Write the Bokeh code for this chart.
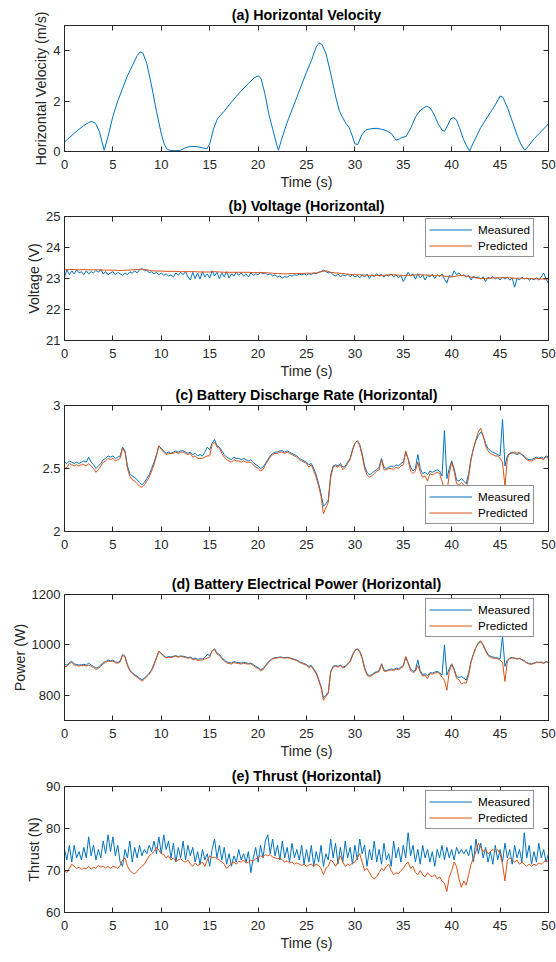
import numpy as np
from bokeh.plotting import figure
from bokeh.layouts import column
from bokeh.models import Range1d, FixedTicker, LinearAxis, Legend, LegendItem
from bokeh.embed import file_html
from bokeh.resources import INLINE

BLUE = "#0072BD"
ORANGE = "#D95319"
AX = "#262626"
FONT = "Liberation Sans"

x_ticks = [0, 5, 10, 15, 20, 25, 30, 35, 40, 45, 50]

# (a) horizontal velocity
vel_t = [0, 0.5, 1, 1.5, 2, 2.5, 2.8, 3.2, 3.6, 3.9,
         4.1, 4.5, 5, 5.5, 6, 6.5, 7, 7.5, 7.8, 8.1,
         8.5, 9, 9.5, 10, 10.3, 10.6, 11, 11.5, 12, 12.5,
         13, 13.5, 14, 14.5, 14.7, 15, 15.4, 15.8, 16.5, 17,
         18, 19, 19.6, 20, 20.3, 20.7, 21.1, 21.5, 21.9, 22.1,
         22.4, 23, 24, 25, 25.5, 26, 26.3, 26.6, 27, 27.5,
         28, 28.4, 28.8, 29.1, 29.4, 29.7, 30, 30.3, 30.7, 31.1,
         31.6, 32.2, 32.8, 33.3, 33.8, 34.25, 34.6, 34.8, 35.3, 35.8,
         36.3, 36.8, 37.4, 37.8, 38.2, 38.6, 39.0, 39.25, 39.6, 39.9,
         40.2, 40.5, 40.8, 41.2, 41.5, 41.85, 42.3, 43, 44, 44.5,
         45, 45.3, 45.8, 46.3, 46.8, 47.2, 47.55, 48, 48.5, 49,
         49.5, 50]
vel_v = [0.37, 0.55, 0.72, 0.88, 1.03, 1.15, 1.2, 1.12, 0.8, 0.35,
         0.05, 0.6, 1.4, 2.0, 2.5, 3.0, 3.4, 3.8, 3.95, 3.9,
         3.5, 2.6, 1.6, 0.7, 0.3, 0.08, 0.04, 0.03, 0.05, 0.15,
         0.2, 0.2, 0.17, 0.12, 0.1, 0.3, 0.9, 1.3, 1.6, 1.85,
         2.3, 2.7, 2.92, 3.0, 2.9, 2.3, 1.5, 0.9, 0.3, 0.05,
         0.45, 1.15, 2.15, 3.15, 3.6, 4.15, 4.3, 4.25, 3.9, 3.1,
         2.2, 1.6, 1.3, 1.1, 0.95, 0.65, 0.3, 0.28, 0.65, 0.85,
         0.9, 0.92, 0.88, 0.82, 0.7, 0.45, 0.5, 0.55, 0.6, 0.95,
         1.4, 1.65, 1.8, 1.72, 1.45, 1.1, 0.85, 0.8, 1.05, 1.3,
         1.35, 1.25, 0.95, 0.5, 0.25, 0.02, 0.4, 0.95, 1.55, 1.85,
         2.2, 2.15, 1.7, 1.15, 0.6, 0.25, 0.05, 0.25, 0.5, 0.7,
         0.9, 1.1]

# (b) voltage, measured every 0.25 s, predicted every 0.5 s
volt_meas = [23.05, 23.28, 23.12, 23.25, 23.15, 23.28, 23.18, 23.22, 23.12, 23.25,
             23.15, 23.22, 23.18, 23.26, 23.20, 23.30, 23.15, 23.22, 23.12, 23.18,
             23.22, 23.12, 23.20, 23.15, 23.10, 23.18, 23.12, 23.22, 23.17, 23.25,
             23.18, 23.28, 23.32, 23.25, 23.28, 23.18, 23.22, 23.15, 23.20, 23.12,
             23.18, 23.10, 23.15, 23.08, 23.12, 23.05, 23.18, 23.10, 23.20, 23.12,
             23.22, 23.05, 22.95, 23.20, 23.00, 23.18, 22.98, 23.22, 23.05, 23.15,
             23.02, 23.25, 23.08, 23.20, 23.00, 23.18, 23.05, 23.22, 23.02, 23.15,
             23.08, 23.20, 23.10, 23.18, 23.08, 23.15, 23.05, 23.18, 23.10, 23.15,
             23.12, 23.20, 23.15, 23.18, 23.12, 23.15, 23.08, 23.12, 23.05, 23.08,
             23.02, 23.06, 23.04, 23.10, 23.08, 23.12, 23.10, 23.14, 23.12, 23.15,
             23.11, 23.16, 23.12, 23.18, 23.15, 23.20, 23.22, 23.27, 23.22, 23.18,
             23.20, 23.12, 23.08, 23.15, 23.05, 23.12, 23.08, 23.14, 23.06, 23.12,
             23.05, 23.10, 23.02, 23.12, 23.05, 23.14, 23.00, 23.12, 23.06, 23.16,
             23.08, 23.14, 23.04, 23.12, 23.08, 23.15, 23.05, 23.12, 23.02, 23.10,
             22.90, 23.05, 23.20, 23.08, 23.15, 22.98, 23.15, 23.02, 23.12, 22.95,
             23.10, 23.05, 23.14, 23.00, 23.12, 23.06, 23.15, 22.98, 22.85, 23.10,
             23.05, 23.25, 23.12, 23.18, 23.08, 23.12, 23.05, 23.10, 22.95, 23.08,
             23.02, 23.05, 22.98, 23.06, 22.90, 23.04, 23.00, 23.06, 22.98, 23.04,
             22.95, 23.05, 22.98, 23.04, 22.95, 23.02, 22.72, 23.00, 22.96, 23.04,
             22.98, 23.02, 22.94, 23.00, 22.96, 23.02, 22.95, 23.05, 23.18, 22.98,
             22.85]
volt_pred = [23.28, 23.29, 23.29, 23.28, 23.29, 23.28, 23.28, 23.28, 23.27, 23.27,
             23.27, 23.26, 23.26, 23.27, 23.28, 23.29, 23.30, 23.28, 23.25, 23.24,
             23.24, 23.23, 23.23, 23.23, 23.22, 23.22, 23.22, 23.22, 23.21, 23.21,
             23.21, 23.22, 23.21, 23.20, 23.20, 23.20, 23.20, 23.20, 23.20, 23.19,
             23.19, 23.19, 23.18, 23.17, 23.16, 23.15, 23.15, 23.16, 23.16, 23.16,
             23.17, 23.17, 23.18, 23.22, 23.25, 23.20, 23.18, 23.17, 23.15, 23.13,
             23.12, 23.12, 23.11, 23.10, 23.10, 23.09, 23.10, 23.12, 23.12, 23.11,
             23.10, 23.10, 23.11, 23.12, 23.12, 23.11, 23.10, 23.10, 23.09, 23.06,
             23.05, 23.08, 23.10, 23.08, 23.04, 23.02, 23.00, 23.00, 23.01, 23.02,
             23.02, 23.03, 23.02, 23.01, 23.01, 23.00, 23.00, 22.99, 22.99, 22.98,
             22.98]

# (c) battery discharge rate, every 0.25 s
rate_meas = [2.55, 2.54, 2.56, 2.55, 2.54, 2.55, 2.54, 2.55, 2.56, 2.55,
             2.59, 2.55, 2.53, 2.50, 2.52, 2.54, 2.57, 2.58, 2.60, 2.59,
             2.60, 2.58, 2.59, 2.60, 2.67, 2.64, 2.52, 2.46, 2.44, 2.43,
             2.41, 2.39, 2.37, 2.39, 2.42, 2.45, 2.50, 2.55, 2.61, 2.68,
             2.66, 2.64, 2.62, 2.63, 2.62, 2.63, 2.64, 2.63, 2.64, 2.64,
             2.63, 2.62, 2.63, 2.61, 2.62, 2.60, 2.61, 2.60, 2.63, 2.67,
             2.65, 2.70, 2.73, 2.68, 2.67, 2.64, 2.61, 2.59, 2.58, 2.57,
             2.59, 2.58, 2.58, 2.57, 2.58, 2.57, 2.56, 2.57, 2.55, 2.53,
             2.52, 2.50, 2.51, 2.54, 2.57, 2.60, 2.62, 2.63, 2.63, 2.64,
             2.64, 2.63, 2.64, 2.63, 2.62, 2.61, 2.60, 2.58, 2.57, 2.56,
             2.55, 2.53, 2.54, 2.50, 2.45, 2.38, 2.30, 2.20, 2.22, 2.25,
             2.45, 2.52, 2.53, 2.52, 2.54, 2.51, 2.52, 2.55, 2.58, 2.65,
             2.70, 2.72, 2.69, 2.62, 2.52, 2.47, 2.45, 2.46, 2.48, 2.49,
             2.51, 2.58, 2.51, 2.50, 2.51, 2.52, 2.51, 2.53, 2.52, 2.54,
             2.55, 2.63, 2.58, 2.51, 2.48, 2.50, 2.61, 2.50, 2.46, 2.47,
             2.45, 2.48, 2.47, 2.48, 2.49, 2.48, 2.44, 2.80, 2.42, 2.50,
             2.56, 2.50, 2.41, 2.40, 2.42, 2.40, 2.38, 2.46, 2.58, 2.66,
             2.72, 2.76, 2.79, 2.76, 2.70, 2.66, 2.64, 2.63, 2.62, 2.61,
             2.60, 2.89, 2.52, 2.60, 2.62, 2.63, 2.62, 2.61, 2.62, 2.61,
             2.60, 2.58, 2.57, 2.57, 2.58, 2.59, 2.58, 2.59, 2.58, 2.60,
             2.59]
rate_pred = [2.50, 2.51, 2.54, 2.53, 2.52, 2.53, 2.52, 2.53, 2.53, 2.52,
             2.54, 2.52, 2.50, 2.47, 2.49, 2.52, 2.55, 2.56, 2.58, 2.57,
             2.58, 2.56, 2.57, 2.58, 2.66, 2.63, 2.50, 2.44, 2.41, 2.40,
             2.38, 2.36, 2.35, 2.37, 2.40, 2.43, 2.48, 2.53, 2.60, 2.68,
             2.65, 2.63, 2.61, 2.62, 2.62, 2.62, 2.63, 2.62, 2.63, 2.63,
             2.62, 2.61, 2.62, 2.59, 2.60, 2.58, 2.58, 2.58, 2.59, 2.60,
             2.60, 2.69, 2.71, 2.67, 2.66, 2.62, 2.59, 2.57, 2.56, 2.55,
             2.57, 2.56, 2.56, 2.55, 2.56, 2.55, 2.55, 2.55, 2.53, 2.51,
             2.50, 2.48, 2.49, 2.53, 2.56, 2.59, 2.61, 2.62, 2.62, 2.63,
             2.63, 2.62, 2.63, 2.62, 2.61, 2.60, 2.59, 2.57, 2.56, 2.55,
             2.54, 2.51, 2.53, 2.48, 2.43, 2.36, 2.28, 2.14, 2.19, 2.23,
             2.43, 2.51, 2.52, 2.51, 2.53, 2.49, 2.51, 2.54, 2.57, 2.64,
             2.70, 2.72, 2.68, 2.60, 2.50, 2.45, 2.43, 2.44, 2.46, 2.48,
             2.49, 2.57, 2.49, 2.49, 2.50, 2.50, 2.49, 2.51, 2.50, 2.52,
             2.53, 2.64, 2.57, 2.48, 2.46, 2.48, 2.55, 2.47, 2.43, 2.44,
             2.40, 2.46, 2.45, 2.46, 2.47, 2.46, 2.40, 2.33, 2.30, 2.46,
             2.55, 2.48, 2.38, 2.37, 2.39, 2.37, 2.34, 2.43, 2.57, 2.66,
             2.73, 2.79, 2.82, 2.76, 2.68, 2.64, 2.62, 2.61, 2.60, 2.60,
             2.58, 2.55, 2.36, 2.58, 2.62, 2.62, 2.63, 2.62, 2.63, 2.61,
             2.59, 2.57, 2.56, 2.56, 2.57, 2.58, 2.58, 2.58, 2.57, 2.59,
             2.58]

# (d) battery electrical power, every 0.25 s
power_meas = [922, 920, 930, 935, 925, 922, 920, 921, 923, 920,
              928, 920, 915, 908, 912, 920, 930, 934, 940, 937,
              940, 933, 930, 936, 962, 955, 922, 900, 890, 882,
              876, 868, 862, 868, 878, 888, 902, 925, 950, 975,
              966, 958, 950, 954, 952, 955, 957, 954, 956, 955,
              953, 950, 952, 946, 948, 943, 945, 944, 950, 962,
              958, 975, 985, 968, 962, 950, 940, 933, 930, 928,
              934, 931, 930, 928, 931, 929, 926, 928, 922, 915,
              910, 902, 905, 918, 930, 940, 946, 949, 950, 952,
              951, 949, 951, 949, 946, 943, 940, 934, 930, 926,
              922, 915, 918, 905, 890, 865, 835, 790, 800, 812,
              895, 915, 918, 915, 920, 912, 915, 925, 935, 960,
              978, 985, 975, 950, 910, 885, 878, 882, 890, 893,
              898, 925, 900, 898, 902, 905, 902, 908, 905, 912,
              918, 952, 930, 905, 895, 900, 940, 898, 882, 885,
              878, 890, 888, 892, 895, 890, 880, 1000, 880, 905,
              925, 905, 875, 870, 875, 868, 860, 890, 935, 965,
              990, 1005, 1012, 1000, 980, 962, 955, 952, 950, 948,
              945, 1035, 915, 940, 948, 950, 947, 944, 946, 942,
              938, 930, 926, 925, 928, 932, 930, 932, 928, 934,
              930]
power_pred = [913, 915, 926, 930, 920, 918, 916, 918, 919, 916,
              920, 915, 910, 903, 907, 915, 925, 930, 936, 934,
              936, 929, 927, 932, 960, 952, 918, 897, 886, 878,
              872, 864, 856, 864, 874, 884, 898, 920, 946, 976,
              964, 955, 948, 951, 950, 952, 955, 951, 954, 952,
              950, 947, 949, 941, 944, 938, 940, 940, 944, 948,
              950, 978, 982, 964, 958, 945, 936, 929, 926, 924,
              930, 927, 926, 924, 927, 925, 924, 925, 918, 911,
              906, 898, 901, 914, 926, 937, 944, 947, 948, 950,
              949, 947, 949, 947, 944, 941, 938, 931, 927, 923,
              919, 910, 915, 900, 885, 860, 830, 780, 795, 808,
              890, 912, 915, 912, 917, 908, 912, 922, 932, 956,
              976, 984, 972, 946, 905, 880, 874, 878, 886, 890,
              894, 922, 896, 895, 899, 901, 898, 904, 901, 908,
              914, 954, 926, 900, 890, 896, 918, 892, 876, 880,
              866, 886, 884, 888, 891, 886, 872, 860, 820, 895,
              922, 900, 868, 862, 845, 850, 848, 880, 932, 962,
              990, 1010, 1016, 998, 975, 958, 950, 948, 946, 945,
              940, 930, 855, 935, 946, 948, 948, 944, 947, 941,
              935, 928, 924, 923, 926, 930, 930, 931, 926, 933,
              929]

# (e) thrust, every 0.25 s
thrust_meas = [75.0, 72.5, 76.0, 72.0, 76.0, 73.0, 74.5, 72.5, 75.5, 73.0,
               78.0, 73.5, 76.0, 72.5, 75.0, 73.0, 77.0, 74.0, 78.5, 74.5,
               78.0, 73.5, 76.0, 72.0, 71.0, 75.0, 73.0, 77.0, 72.0, 75.5,
               73.0, 76.0, 73.5, 75.0, 74.0, 76.0, 74.5, 77.0, 74.0, 78.0,
               74.0, 78.5, 75.0, 77.0, 73.0, 76.5, 72.0, 75.5, 73.0, 77.0,
               72.5, 76.0, 73.5, 75.5, 72.0, 74.5, 71.5, 75.0, 72.5, 74.0,
               71.0, 75.0, 77.5, 73.0, 76.0, 72.5, 75.5, 71.5, 74.0, 71.0,
               73.5, 72.0, 75.0, 72.5, 74.0, 72.0, 74.5, 69.5, 73.0, 75.5,
               72.0, 76.0, 73.0, 77.0, 78.5, 74.0, 77.5, 73.5, 76.0, 72.5,
               77.0, 73.0, 75.5, 72.0, 76.5, 73.0, 75.0, 72.5, 76.0, 71.5,
               75.0, 72.0, 76.0, 71.0, 74.5, 72.0, 76.0, 71.0, 74.0, 72.5,
               77.5, 73.0, 76.5, 71.5, 75.5, 72.0, 77.0, 73.0, 75.5, 71.5,
               76.0, 72.5, 77.5, 74.0, 76.0, 71.0, 75.0, 72.5, 77.0, 72.0,
               75.0, 71.5, 76.5, 72.5, 74.0, 71.0, 77.0, 73.0, 75.5, 72.0,
               76.0, 73.0, 79.0, 73.5, 76.0, 72.0, 75.0, 71.5, 76.0, 73.0,
               75.0, 72.0, 74.5, 71.0, 75.0, 73.0, 76.0, 72.5, 75.5, 73.0,
               75.0, 72.5, 75.5, 74.0, 75.0, 74.0, 75.0, 73.5, 76.0, 72.0,
               77.5, 74.0, 76.5, 73.0, 75.5, 72.0, 74.5, 71.5, 76.0, 72.5,
               75.0, 72.0, 76.5, 73.0, 75.0, 71.5, 76.0, 73.0, 75.0, 72.0,
               79.0, 73.0, 76.0, 71.5, 74.5, 72.0, 76.5, 73.0, 75.0, 72.0,
               74.0]
thrust_pred = [70.0, 69.5, 70.5, 71.5, 71.0, 70.5, 70.8, 70.2, 70.6, 70.4,
               71.0, 70.3, 70.8, 70.5, 71.2, 70.8, 71.0, 70.6, 71.0, 70.5,
               71.0, 70.8, 70.5, 71.2, 72.5, 73.0, 71.0, 70.0, 69.5, 69.2,
               69.8, 70.5, 71.0, 71.5, 72.5, 73.5, 74.0, 74.5, 75.5, 74.8,
               74.0, 73.8, 73.0, 73.5, 72.5, 73.0, 72.2, 72.5, 72.8, 72.2,
               72.0, 72.5, 71.5, 71.0, 71.8, 71.2, 71.5, 72.0, 71.0, 72.5,
               73.5, 73.0, 73.2, 72.8, 72.5, 72.0, 71.5, 70.5, 71.0, 71.8,
               72.0, 71.5, 72.2, 72.0, 72.5, 71.8, 72.0, 72.5, 72.2, 72.8,
               73.0, 73.5, 73.2, 73.8, 73.5, 73.8, 73.2, 73.0, 72.8, 73.0,
               72.5, 72.0, 72.3, 71.8, 72.0, 71.5, 71.8, 71.5, 71.2, 71.5,
               71.0, 71.3, 71.5, 71.0, 71.5, 71.2, 70.5, 69.0, 70.5, 71.0,
               72.5, 72.0, 71.0, 72.0, 73.5, 72.0, 71.0, 71.5, 71.2, 71.8,
               72.0, 73.0, 74.0, 72.0, 70.0, 70.5, 69.5, 68.5, 68.0, 68.5,
               69.5, 70.5, 70.0, 71.0, 71.5, 70.0, 69.0, 69.5, 69.2, 70.0,
               70.5, 71.5, 72.0, 70.5, 71.0, 69.5, 69.0, 70.0, 69.0, 68.5,
               69.5, 68.8, 68.5, 69.0, 68.0, 68.5, 67.5, 67.0, 65.0, 68.5,
               70.0, 72.0, 71.0, 68.0, 66.0, 67.5, 66.5, 69.0, 71.5, 73.0,
               74.5, 76.5, 75.5, 74.5, 75.0, 74.0, 74.5, 75.0, 74.5, 75.0,
               74.0, 71.5, 67.5, 72.5, 73.0, 72.5, 72.0, 72.5, 71.5, 72.0,
               71.5, 71.0, 71.5, 71.0, 71.5, 71.2, 71.8, 71.5, 72.0, 72.5,
               72.0]


def sample_times(vals):
    return np.linspace(0, 50, len(vals))


def style_axis(ax, standoff, label_standoff):
    ax.axis_line_color = AX
    ax.axis_line_width = 1
    ax.major_tick_line_color = AX
    ax.major_tick_in = 5
    ax.major_tick_out = 0
    ax.minor_tick_line_color = None
    ax.major_label_text_font = FONT
    ax.major_label_text_font_size = "13px"
    ax.major_label_text_color = AX
    ax.major_label_standoff = standoff
    ax.axis_label_text_font = FONT
    ax.axis_label_text_font_size = "14.3px"
    ax.axis_label_text_font_style = "normal"
    ax.axis_label_text_color = AX
    ax.axis_label_standoff = label_standoff


def make_fig(title, ylabel, yr, yticks, xlabel, height, top, bottom):
    p = figure(width=556, height=height, output_backend="svg", toolbar_location=None,
               tools="", x_range=Range1d(0, 50), y_range=Range1d(*yr),
               min_border_left=64, min_border_right=8,
               min_border_top=top, min_border_bottom=bottom)
    p.title.text = title
    p.title.text_font = FONT
    p.title.text_font_size = "14.3px"
    p.title.text_font_style = "bold"
    p.title.text_color = "#000000"
    p.title.align = "center"
    p.title.standoff = 6
    p.grid.visible = False
    p.outline_line_color = AX
    p.outline_line_width = 1
    p.background_fill_color = "white"
    p.border_fill_color = "white"
    p.xaxis.ticker = FixedTicker(ticks=x_ticks)
    p.yaxis.ticker = FixedTicker(ticks=yticks)
    style_axis(p.xaxis[0], 8, 2)
    style_axis(p.yaxis[0], 4, 1)
    if xlabel:
        p.xaxis.axis_label = "Time (s)"
    if ylabel:
        p.yaxis.axis_label = ylabel
    for loc, tk in (("above", x_ticks), ("right", yticks)):
        ax = LinearAxis(ticker=FixedTicker(ticks=tk))
        style_axis(ax, 0, 0)
        ax.major_label_text_font_size = "0px"
        ax.major_label_text_color = None
        p.add_layout(ax, loc)
    return p


def add_legend(p, r1, r2, vy):
    leg = Legend(items=[LegendItem(label="Measured", renderers=[r1]),
                        LegendItem(label="Predicted", renderers=[r2])],
                 location=(361, vy))
    leg.label_text_font = FONT
    leg.label_text_font_size = "11.7px"
    leg.label_text_color = "#000000"
    leg.glyph_width = 43
    leg.glyph_height = 15
    leg.label_height = 15
    leg.label_standoff = 6
    leg.spacing = 1
    leg.padding = 3
    leg.border_line_color = AX
    leg.border_line_width = 1
    leg.background_fill_alpha = 1
    p.add_layout(leg)


pa = make_fig("(a) Horizontal Velocity", "Horizontal Velocity (m/s)", (0, 5), [0, 2, 4],
              True, 192, 25, 41)
pa.line(vel_t, vel_v, line_color=BLUE, line_width=1)

pb = make_fig("(b) Voltage (Horizontal)", "Voltage (V)", (21, 25), [21, 22, 23, 24, 25],
              True, 189, 24, 39)
rb1 = pb.line(sample_times(volt_meas), volt_meas, line_color=BLUE, line_width=1)
rb2 = pb.line(sample_times(volt_pred), volt_pred, line_color=ORANGE, line_width=1)
add_legend(pb, rb1, rb2, 83)

pc = make_fig("(c) Battery Discharge Rate (Horizontal)", "", (2, 3), [2, 2.5, 3],
              False, 189, 24, 39)
rc1 = pc.line(sample_times(rate_meas), rate_meas, line_color=BLUE, line_width=1)
rc2 = pc.line(sample_times(rate_pred), rate_pred, line_color=ORANGE, line_width=1)
add_legend(pc, rc1, rc2, 7)

pd = make_fig("(d) Battery Electrical Power (Horizontal)", "Power (W)", (700, 1200),
              [800, 1000, 1200], True, 192, 24, 42)
rd1 = pd.line(sample_times(power_meas), power_meas, line_color=BLUE, line_width=1)
rd2 = pd.line(sample_times(power_pred), power_pred, line_color=ORANGE, line_width=1)
add_legend(pd, rd1, rd2, 83)

pe = make_fig("(e) Thrust (Horizontal)", "Thrust (N)", (60, 90), [60, 70, 80, 90],
              True, 200, 24, 50)
re1 = pe.line(sample_times(thrust_meas), thrust_meas, line_color=BLUE, line_width=1)
re2 = pe.line(sample_times(thrust_pred), thrust_pred, line_color=ORANGE, line_width=1)
add_legend(pe, re1, re2, 83)

layout = column(pa, pb, pc, pd, pe, spacing=0)
open("out.html", "w").write(file_html(layout, INLINE))
